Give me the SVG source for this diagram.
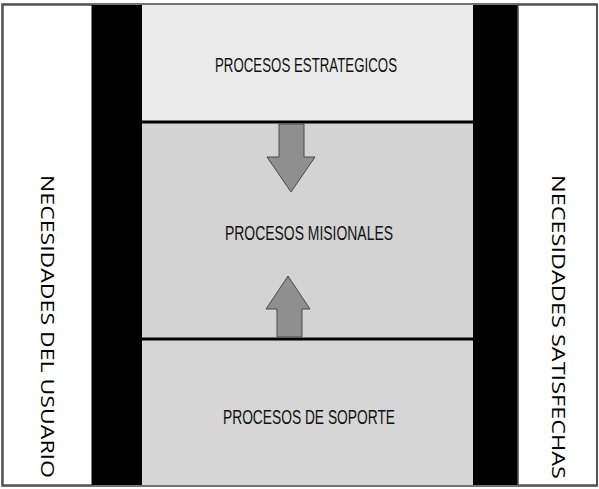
<svg xmlns="http://www.w3.org/2000/svg" width="599" height="489" viewBox="0 0 599 489">
  <style>
    .band-label { font-family: "Liberation Sans", Arial, sans-serif; font-size: 21px; fill: #111; }
    .side-label { font-family: "Open Sans", "DejaVu Sans", sans-serif; font-size: 18px; fill: #000; }
    .bar { fill: #000; }
    .arrow { fill: #8f8f8f; stroke: #4a4a4a; stroke-width: 1; }
    .sep { stroke: #000; stroke-width: 3; }
  </style>
  <rect x="0" y="0" width="599" height="489" fill="#fff"/>
  <g id="usuario">
    <rect x="3" y="5" width="89" height="480" fill="#fff" stroke="#555" stroke-width="1.5"/>
    <text class="side-label" transform="translate(41,175) rotate(90)" textLength="303" lengthAdjust="spacingAndGlyphs">NECESIDADES DEL USUARIO</text>
  </g>
  <rect class="bar" x="92" y="5" width="50" height="480"/>
  <g id="estrategicos">
    <rect x="142" y="5" width="331" height="117" fill="#eaeaea"/>
    <text class="band-label" x="215" y="72" textLength="182" lengthAdjust="spacingAndGlyphs">PROCESOS ESTRATEGICOS</text>
  </g>
  <g id="misionales">
    <rect x="142" y="122" width="331" height="217" fill="#d3d3d3"/>
    <text class="band-label" x="225" y="240" textLength="168" lengthAdjust="spacingAndGlyphs">PROCESOS MISIONALES</text>
  </g>
  <g id="soporte">
    <rect x="142" y="339" width="331" height="146" fill="#d6d6d6"/>
    <text class="band-label" x="223" y="424" textLength="172" lengthAdjust="spacingAndGlyphs">PROCESOS DE SOPORTE</text>
  </g>
  <rect class="bar" x="473" y="5" width="45" height="480"/>
  <g id="satisfechas">
    <rect x="518" y="5" width="79" height="480" fill="#fff" stroke="#555" stroke-width="1.5"/>
    <text class="side-label" transform="translate(552,175) rotate(90)" textLength="304" lengthAdjust="spacingAndGlyphs">NECESIDADES SATISFECHAS</text>
  </g>
  <g id="connectors">
    <line class="sep" x1="142" y1="122" x2="473" y2="122"/>
    <line class="sep" x1="142" y1="339" x2="473" y2="339"/>
    <polygon class="arrow" points="279,124 304,124 304,157 315,157 291,192 267,157 279,157"/>
    <polygon class="arrow" points="277,337 302,337 302,309 310,309 288,276 266,309 277,309"/>
  </g>
  <rect x="2" y="4" width="595" height="482" fill="none" stroke="#444" stroke-width="1.5"/>
</svg>
